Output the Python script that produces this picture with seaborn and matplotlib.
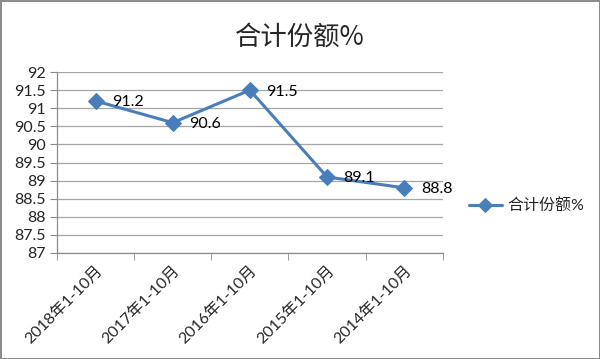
import pandas as pd
import seaborn as sns
import matplotlib.pyplot as plt
from matplotlib.ticker import MultipleLocator, FixedLocator

# Data
periods = ['2018年1-10月', '2017年1-10月', '2016年1-10月', '2015年1-10月', '2014年1-10月']
share = [91.2, 90.6, 91.5, 89.1, 88.8]
series_name = '合计份额%'

df = pd.DataFrame({'period': periods, 'share': share})

sns.set_style("white")
plt.rcParams['font.family'] = ['Lato', 'Noto Sans CJK SC', 'DejaVu Sans']

fig = plt.figure(figsize=(6, 3.59), dpi=100, edgecolor='#8c8c8c', linewidth=2)
ax = fig.add_axes([0.095, 0.2953, 0.643, 0.5041])

blue = '#4A7EBB'
sns.lineplot(data=df, x='period', y='share', ax=ax, sort=False, color=blue,
             linewidth=2.2, marker='D', markersize=8.5, markeredgecolor=blue,
             label=series_name)

# Data labels
for i, v in enumerate(share):
    ax.annotate(f'{v}', (i, v), xytext=(12, -1), textcoords='offset points',
                ha='left', va='center', fontsize=11.5, color='black')

ax.set_xlim(-0.5, len(periods) - 0.5)
ax.set_ylim(87, 92)
ax.yaxis.set_major_locator(MultipleLocator(0.5))
ax.set_yticklabels([f'{t:g}' for t in ax.get_yticks()])
ax.grid(axis='y', color='#a6a6a6', linewidth=0.9)
ax.grid(axis='x', visible=False)

for side in ['top', 'right']:
    ax.spines[side].set_visible(False)
for side in ['left', 'bottom']:
    ax.spines[side].set_color('#8c8c8c')
    ax.spines[side].set_linewidth(0.9)

ax.tick_params(axis='y', which='major', left=True, length=5, color='#8c8c8c',
               labelsize=11.5, pad=3)
ax.tick_params(axis='x', which='major', bottom=False, labelsize=11.5, pad=4)
ax.xaxis.set_minor_locator(FixedLocator([i - 0.5 for i in range(len(periods) + 1)]))
ax.tick_params(axis='x', which='minor', bottom=True, length=5, color='#8c8c8c')
plt.setp(ax.get_xticklabels(), rotation=45, ha='right', rotation_mode='anchor')

ax.set_xlabel('')
ax.set_ylabel('')

fig.suptitle('合计份额%', x=0.5, y=0.935, fontsize=19,
             family=['Noto Sans CJK SC', 'DejaVu Sans'])

ax.legend(loc='center left', bbox_to_anchor=(0.757, 0.426),
          bbox_transform=fig.transFigure, frameon=False, fontsize=11.5,
          handlelength=2.1, handletextpad=0.3, markerscale=0.85)

fig.savefig('out.png', dpi=100)
